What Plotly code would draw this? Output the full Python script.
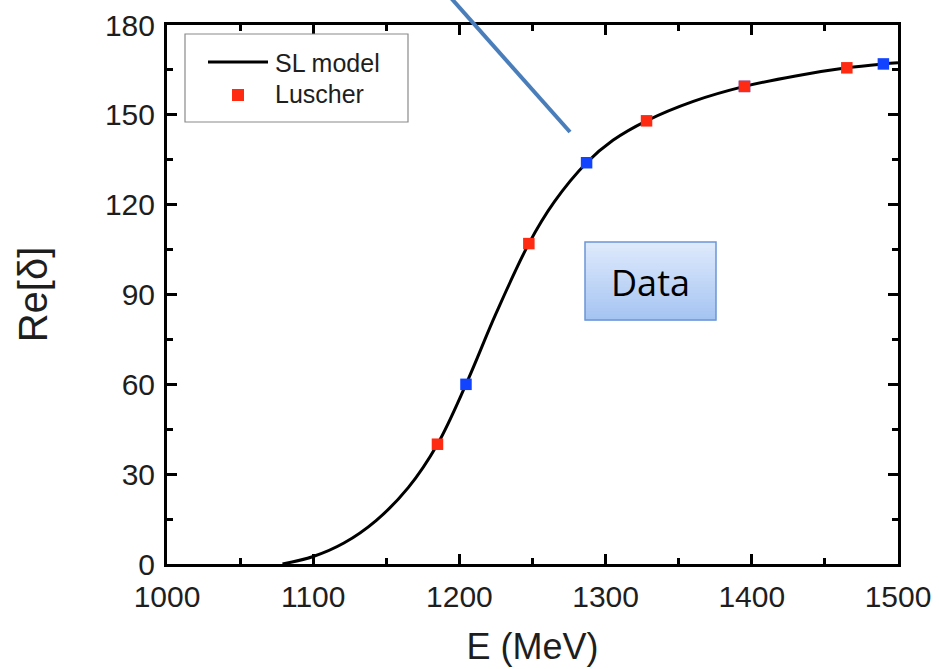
import plotly.graph_objects as go

# ---- data ----
e_curve = [1079, 1100, 1121, 1143, 1165, 1185, 1204.5, 1225,
           1247.5, 1265, 1287, 1305, 1328, 1360, 1395, 1430, 1465, 1490, 1500]
d_curve = [0, 2.5, 7.0, 14.5, 25.5, 40, 60, 83.6,
           107, 121, 134, 141.5, 148, 154.5, 159.5, 163, 165.7, 167, 167.4]

e_red = [1185, 1247.5, 1328, 1395, 1465]
d_red = [40, 107, 148, 159.5, 165.7]

e_blue = [1204.5, 1287, 1395, 1490]
d_blue = [60, 134, 159.5, 167]

x_ticks = [1000, 1100, 1200, 1300, 1400, 1500]
y_ticks = [0, 30, 60, 90, 120, 150, 180]

# ---- layout geometry (pixels) ----
W, H = 939, 669
L, R, T, B = 167, 898, 25, 564
PW, PH = R - L, B - T


def px(xp):
    return (xp - L) / PW


def py(yp):
    return (B - yp) / PH


FONT = "Liberation Sans, Arial, sans-serif"
TXT = "#1e1e1e"
RED = "#ff2a12"
BLUE = "#1244ff"

fig = go.Figure()
fig.add_trace(go.Scatter(x=e_curve, y=d_curve, mode="lines",
                         line=dict(color="black", width=3, shape="spline", smoothing=1.0),
                         name="SL model", showlegend=False))
fig.add_trace(go.Scatter(x=e_blue, y=d_blue, mode="markers",
                         marker=dict(symbol="square", size=11.5, color=BLUE, line=dict(width=0)),
                         showlegend=False))
fig.add_trace(go.Scatter(x=e_red, y=d_red, mode="markers",
                         marker=dict(symbol="square", size=11.5, color=RED, line=dict(width=0)),
                         name="Luscher", showlegend=False))

shapes = []
annotations = []

# legend box (manual)
shapes.append(dict(type="rect", xref="paper", yref="paper",
                   x0=px(185), x1=px(408), y0=py(122), y1=py(34),
                   line=dict(color="#8a8a8a", width=1.2), fillcolor="white"))
shapes.append(dict(type="line", xref="paper", yref="paper",
                   x0=px(208), x1=px(268), y0=py(62), y1=py(62),
                   line=dict(color="black", width=3)))
shapes.append(dict(type="rect", xref="paper", yref="paper",
                   x0=px(232), x1=px(244), y0=py(101), y1=py(89),
                   line=dict(width=0), fillcolor=RED))
annotations.append(dict(xref="paper", yref="paper", x=px(273), y=py(63), text="SL model",
                        showarrow=False, xanchor="left", yanchor="middle",
                        font=dict(family=FONT, size=25, color=TXT)))
annotations.append(dict(xref="paper", yref="paper", x=px(273), y=py(94), text="Luscher",
                        showarrow=False, xanchor="left", yanchor="middle",
                        font=dict(family=FONT, size=25, color=TXT)))

# blue pointer line
shapes.append(dict(type="line", xref="paper", yref="paper",
                   x0=px(451), y0=py(-2), x1=px(570), y1=py(132),
                   line=dict(color="#4a7ebb", width=4)))

# "Data" box with vertical gradient
bx0, bx1, by0, by1 = 585, 716, 242, 320
n = 26
top_c = (222, 234, 252)
bot_c = (166, 196, 242)
for i in range(n):
    t = i / (n - 1)
    c = tuple(int(round(top_c[k] + (bot_c[k] - top_c[k]) * t)) for k in range(3))
    y_a = by0 + (by1 - by0) * i / n
    y_b = by0 + (by1 - by0) * (i + 1) / n
    shapes.append(dict(type="rect", xref="paper", yref="paper",
                       x0=px(bx0), x1=px(bx1), y0=py(y_b + 0.6), y1=py(y_a),
                       line=dict(width=0), fillcolor="rgb(%d,%d,%d)" % c, layer="above"))
shapes.append(dict(type="rect", xref="paper", yref="paper",
                   x0=px(bx0), x1=px(bx1), y0=py(by1), y1=py(by0),
                   line=dict(color="#6b95d6", width=1.5), fillcolor="rgba(0,0,0,0)", layer="above"))
annotations.append(dict(xref="paper", yref="paper", x=px((bx0 + bx1) / 2), y=py((by0 + by1) / 2 + 1),
                        text="Data", showarrow=False, xanchor="center", yanchor="middle",
                        font=dict(family="Open Sans, sans-serif", size=36, color="black")))

axis_common = dict(showline=True, linecolor="black", linewidth=3, mirror="ticks",
                   ticks="inside", ticklen=10, tickwidth=2.5, tickcolor="black",
                   showgrid=False, zeroline=False, automargin=False,
                   tickfont=dict(family=FONT, size=30, color=TXT))

fig.update_layout(
    width=W, height=H,
    margin=dict(l=L, r=W - R, t=T, b=H - B),
    plot_bgcolor="white", paper_bgcolor="white",
    showlegend=False,
    shapes=shapes, annotations=annotations,
    xaxis=dict(range=[1000, 1500], tickvals=x_ticks, ticktext=[str(v) for v in x_ticks],
               minor=dict(dtick=50, ticks="inside", ticklen=6, tickwidth=2.5, tickcolor="black"),
               ticklabelstandoff=4,
               title=dict(text="E (MeV)", font=dict(family=FONT, size=36, color=TXT), standoff=22),
               **axis_common),
    yaxis=dict(range=[0, 180], tickvals=y_ticks, ticktext=[str(v) for v in y_ticks],
               minor=dict(dtick=15, ticks="inside", ticklen=6, tickwidth=2.5, tickcolor="black"),
               ticklabelstandoff=3,
               title=dict(text="Re[δ]", font=dict(family=FONT, size=40, color=TXT), standoff=45),
               **axis_common),
)

fig.write_html("out.html")
